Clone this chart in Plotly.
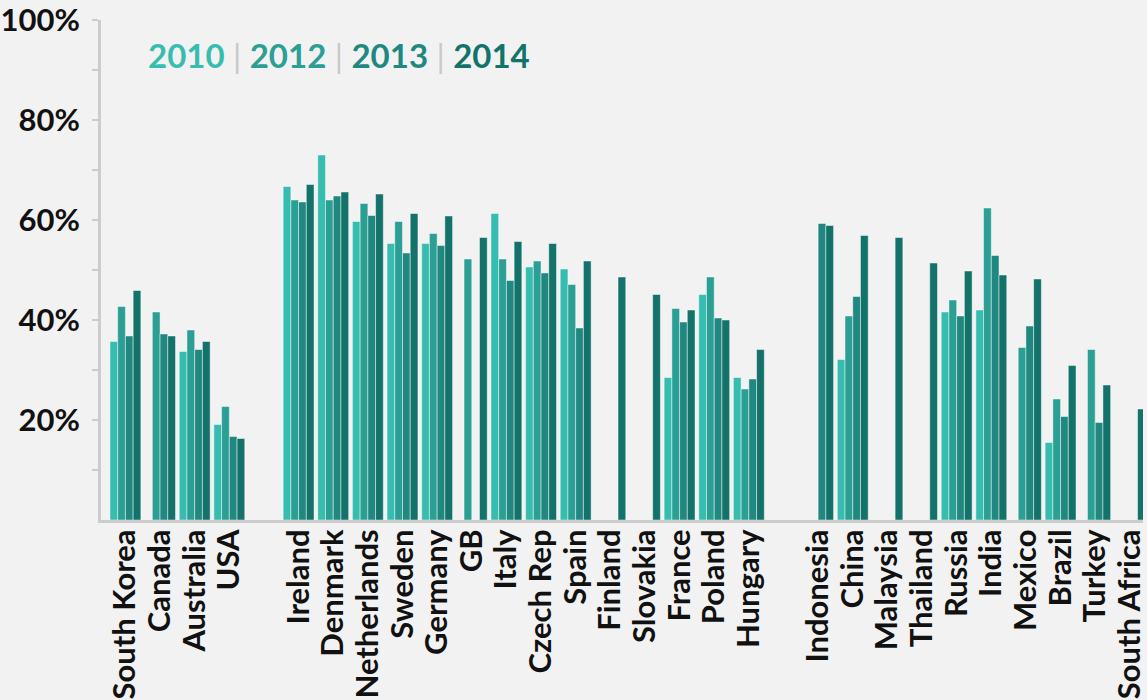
import plotly.graph_objects as go

categories = ["South Korea", "Canada", "Australia", "USA", "",
              "Ireland", "Denmark", "Netherlands", "Sweden", "Germany", "GB", "Italy",
              "Czech Rep", "Spain", "Finland", "Slovakia", "France", "Poland", "Hungary", " ",
              "Indonesia", "China", "Malaysia", "Thailand", "Russia", "India", "Mexico",
              "Brazil", "Turkey", "South Africa"]
N = None
y2010 = [35.7, N, 33.7, 19.1, N,
         66.7, 73.0, 59.7, 55.3, 55.3, N, 61.3, 50.6, 50.2, N, N, 28.5, 45.1, 28.5, N,
         N, 32.1, N, N, 41.6, 42.0, N, 15.5, N, N]
y2012 = [42.7, 41.6, 38.0, 22.7, N,
         64.0, 64.0, 63.3, 59.7, 57.3, 52.2, 52.2, 51.8, 47.1, N, N, 42.3, 48.6, 26.2, N,
         N, 40.8, N, N, 44.0, 62.4, 34.5, 24.2, 34.1, N]
y2013 = [36.8, 37.2, 34.1, 16.7, N,
         63.6, 64.8, 60.9, 53.4, 54.9, N, 47.9, 49.4, 38.4, N, N, 39.6, 40.4, 28.2, N,
         59.3, 44.7, N, N, 40.8, 52.9, 38.8, 20.7, 19.5, N]
y2014 = [45.9, 36.8, 35.7, 16.3, N,
         67.1, 65.6, 65.2, 61.3, 60.8, 56.5, 55.7, 55.3, 51.8, 48.6, 45.1, 42.0, 40.0, 34.1, N,
         58.9, 56.9, 56.5, 51.4, 49.8, 49.0, 48.2, 30.9, 27.0, 22.2]

years = ["2010", "2012", "2013", "2014"]
series = [y2010, y2012, y2013, y2014]
colors = ["#37bdb0", "#2b9f94", "#208880", "#13726a"]

ytick_vals = [10, 20, 30, 40, 50, 60, 70, 80, 90, 100]
ytick_text = ["", "20%", "", "40%", "", "60%", "", "80%", "", "100%"]

xpos = list(range(len(categories)))

fig = go.Figure()
for name, vals, col in zip(years, series, colors):
    fig.add_trace(go.Bar(
        x=xpos, y=vals, name=name,
        marker=dict(color=col, line=dict(color="rgba(255,255,255,0.45)", width=1)),
        showlegend=False,
    ))

sep = '<span style="color:#c8c8c8;font-weight:normal"> | </span>'
legend_html = sep.join(
    f'<span style="color:{c}">{y}</span>' for y, c in zip(years, colors)
)

fig.update_layout(
    width=1147, height=700,
    margin=dict(l=101, r=0, t=18, b=179),
    paper_bgcolor="#f2f2f2", plot_bgcolor="#f2f2f2",
    barmode="group", bargap=0.108, bargroupgap=0,
    font=dict(family="Lato", size=31, color="#111111"),
    xaxis=dict(
        range=[-0.705, 29.38],
        tickmode="array", tickvals=xpos, ticktext=categories,
        tickangle=-90, showgrid=False, zeroline=False,
        showline=True, linecolor="#cccccc", linewidth=3,
        ticks="", tickfont=dict(family="Lato", size=31, color="#111111", weight="bold"),
        ticklabelstandoff=-6, ticklabeloverflow="allow",
    ),
    yaxis=dict(
        range=[0, 100],
        tickmode="array", tickvals=ytick_vals, ticktext=ytick_text,
        showgrid=False, zeroline=False,
        showline=True, linecolor="#cccccc", linewidth=3,
        ticks="outside", ticklen=6, tickwidth=2, tickcolor="#cccccc",
        tickfont=dict(family="Lato", size=31, color="#111111", weight="bold"),
        ticklabelstandoff=6, ticklabeloverflow="allow",
    ),
    annotations=[dict(
        text=legend_html, xref="paper", yref="paper",
        x=0.043, y=0.93, xanchor="left", yanchor="middle",
        showarrow=False,
        font=dict(family="Lato", size=33, weight="bold"),
    )],
)

fig.write_html(
    "out.html",
    config={"displayModeBar": False},
    post_script="document.body.style.margin='0';document.body.style.background='#f2f2f2';document.body.style.overflow='hidden';",
)
